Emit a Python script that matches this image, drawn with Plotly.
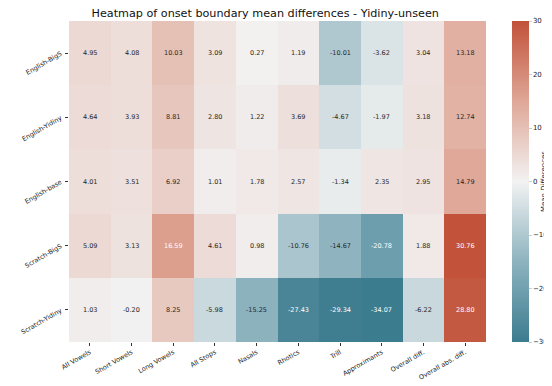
import plotly.graph_objects as go

FONT = "DejaVu Sans"

models = ["English-BigS", "English-Yidiny", "English-base", "Scratch-BigS", "Scratch-Yidiny"]
phone_classes = ["All Vowels", "Short Vowels", "Long Vowels", "All Stops", "Nasals",
                 "Rhotics", "Trill", "Approximants", "Overall diff.", "Overall abs. diff."]

english_bigs   = [4.95, 4.08, 10.03, 3.09, 0.27, 1.19, -10.01, -3.62, 3.04, 13.18]
english_yidiny = [4.64, 3.93, 8.81, 2.80, 1.22, 3.69, -4.67, -1.97, 3.18, 12.74]
english_base   = [4.01, 3.51, 6.92, 1.01, 1.78, 2.57, -1.34, 2.35, 2.95, 14.79]
scratch_bigs   = [5.09, 3.13, 16.59, 4.61, 0.98, -10.76, -14.67, -20.78, 1.88, 30.76]
scratch_yidiny = [1.03, -0.20, 8.25, -5.98, -15.25, -27.43, -29.34, -34.07, -6.22, 28.80]

z = [english_bigs, english_yidiny, english_base, scratch_bigs, scratch_yidiny]

# seaborn diverging_palette(220, 20) look-alike
colorscale = [
    [0.0, "#3b7c8f"],
    [0.25, "#8db3bf"],
    [0.5, "#f2f2f2"],
    [0.75, "#dfa797"],
    [1.0, "#c2523a"],
]

fig = go.Figure(go.Heatmap(
    z=z, x=phone_classes, y=models,
    zmin=-30, zmax=30,
    colorscale=colorscale,
    xgap=0, ygap=0,
    colorbar=dict(
        x=1.062, xanchor="left", xpad=0, ypad=0,
        y=0.5, len=1, lenmode="fraction",
        thickness=17, outlinewidth=0,
        tickvals=[-30, -20, -10, 0, 10, 20, 30],
        ticktext=["\u221230", "\u221220", "\u221210", "0", "10", "20", "30"],
        ticks="outside", ticklen=3, tickcolor="#cccccc",
        tickfont=dict(family=FONT, size=7, color="#222222"),
        title=dict(text="Mean Differences", side="right",
                   font=dict(family=FONT, size=7, color="#222222")),
    ),
    hoverongaps=False,
))

# cell labels, light text on dark cells
annotations = []
for r, row in enumerate(z):
    for c, v in enumerate(row):
        dark = abs(v) >= 16
        annotations.append(dict(
            x=phone_classes[c], y=models[r], text=f"{v:.2f}",
            showarrow=False,
            font=dict(family=FONT, size=6.5, color="white" if dark else "#262626"),
        ))

fig.update_layout(
    width=552, height=386,
    margin=dict(l=48, r=71, t=13, b=36),
    paper_bgcolor="white", plot_bgcolor="white",
    title=dict(text="Heatmap of onset boundary mean differences - Yidiny-unseen",
               font=dict(family=FONT, size=11.2, color="#111111"),
               x=0.466, xanchor="center", y=0.998, yanchor="top"),
    annotations=annotations,
    xaxis=dict(tickangle=-30, tickfont=dict(family=FONT, size=6.5, color="#222222"),
               ticks="outside", ticklen=3, tickcolor="#333333", showgrid=False, zeroline=False),
    yaxis=dict(autorange="reversed", tickangle=-30,
               tickfont=dict(family=FONT, size=6.5, color="#222222"),
               ticks="outside", ticklen=3, tickcolor="#333333", showgrid=False, zeroline=False,
               ticklabelstandoff=3),
)

fig.write_html("out.html")
